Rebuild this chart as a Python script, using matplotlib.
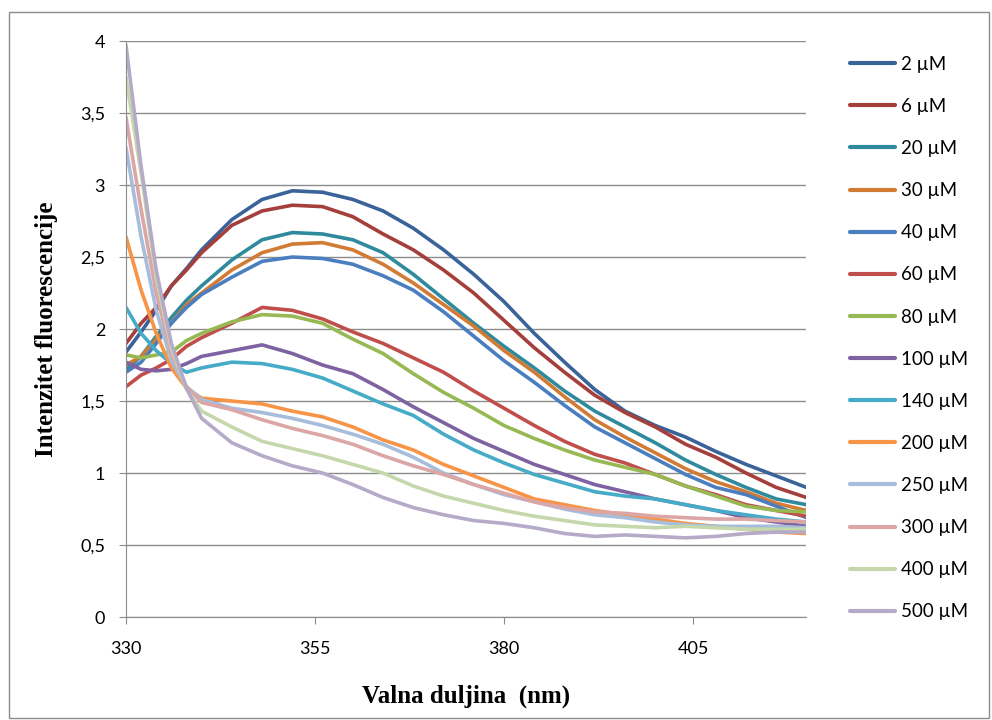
import matplotlib
matplotlib.use('Agg')
import matplotlib.pyplot as plt
from matplotlib.patches import Rectangle

# wavelength grid (nm) and intensities
wavelength = [330, 332, 334, 336, 338, 340, 344, 348, 352, 356, 360, 364, 368,
              372, 376, 380, 384, 388, 392, 396, 400, 404, 408, 412, 416, 420]

c_2 = [1.84, 1.98, 2.13, 2.30, 2.42, 2.55, 2.76, 2.90, 2.96, 2.95, 2.90, 2.82, 2.70,
       2.55, 2.38, 2.19, 1.97, 1.77, 1.58, 1.43, 1.33, 1.25, 1.15, 1.06, 0.98, 0.90]
c_6 = [1.90, 2.04, 2.15, 2.30, 2.41, 2.53, 2.72, 2.82, 2.86, 2.85, 2.78, 2.66, 2.55,
       2.41, 2.25, 2.06, 1.87, 1.70, 1.54, 1.42, 1.32, 1.20, 1.11, 1.00, 0.90, 0.83]
c_20 = [1.72, 1.81, 1.95, 2.08, 2.20, 2.30, 2.48, 2.62, 2.67, 2.66, 2.62, 2.53, 2.38,
        2.21, 2.04, 1.88, 1.73, 1.57, 1.43, 1.32, 1.21, 1.09, 0.99, 0.90, 0.82, 0.78]
c_30 = [1.75, 1.81, 1.93, 2.04, 2.17, 2.25, 2.41, 2.53, 2.59, 2.60, 2.55, 2.45, 2.32,
        2.17, 2.02, 1.85, 1.70, 1.53, 1.37, 1.25, 1.14, 1.03, 0.94, 0.87, 0.79, 0.74]
c_40 = [1.70, 1.77, 1.90, 2.04, 2.15, 2.24, 2.36, 2.47, 2.50, 2.49, 2.45, 2.37, 2.27,
        2.12, 1.95, 1.78, 1.63, 1.47, 1.32, 1.21, 1.10, 0.99, 0.90, 0.85, 0.77, 0.69]
c_60 = [1.60, 1.68, 1.73, 1.79, 1.88, 1.94, 2.04, 2.15, 2.13, 2.07, 1.98, 1.90, 1.80,
        1.70, 1.57, 1.45, 1.33, 1.22, 1.13, 1.07, 0.99, 0.91, 0.85, 0.78, 0.74, 0.70]
c_80 = [1.82, 1.80, 1.82, 1.84, 1.92, 1.97, 2.05, 2.10, 2.09, 2.04, 1.93, 1.83, 1.69,
        1.56, 1.45, 1.33, 1.24, 1.16, 1.09, 1.04, 0.99, 0.91, 0.84, 0.77, 0.74, 0.73]
c_100 = [1.77, 1.72, 1.71, 1.72, 1.76, 1.81, 1.85, 1.89, 1.83, 1.75, 1.69, 1.58, 1.46,
         1.35, 1.24, 1.15, 1.06, 0.99, 0.92, 0.87, 0.82, 0.78, 0.74, 0.69, 0.66, 0.63]
c_140 = [2.15, 1.97, 1.85, 1.76, 1.70, 1.73, 1.77, 1.76, 1.72, 1.66, 1.57, 1.48, 1.40,
         1.27, 1.16, 1.07, 0.99, 0.93, 0.87, 0.84, 0.82, 0.78, 0.74, 0.71, 0.68, 0.66]
c_200 = [2.64, 2.27, 1.97, 1.73, 1.59, 1.52, 1.50, 1.48, 1.43, 1.39, 1.32, 1.23, 1.16,
         1.06, 0.98, 0.90, 0.82, 0.78, 0.74, 0.71, 0.68, 0.65, 0.63, 0.61, 0.59, 0.58]
c_250 = [3.26, 2.64, 2.13, 1.78, 1.60, 1.51, 1.45, 1.42, 1.38, 1.33, 1.27, 1.20, 1.11,
         1.00, 0.92, 0.85, 0.80, 0.75, 0.71, 0.69, 0.66, 0.64, 0.63, 0.63, 0.63, 0.62]
c_300 = [3.47, 2.83, 2.25, 1.83, 1.60, 1.49, 1.44, 1.37, 1.31, 1.26, 1.20, 1.12, 1.05,
         0.99, 0.92, 0.86, 0.80, 0.76, 0.73, 0.72, 0.70, 0.69, 0.68, 0.68, 0.67, 0.66]
c_400 = [3.75, 3.08, 2.36, 1.87, 1.58, 1.43, 1.32, 1.22, 1.17, 1.12, 1.06, 1.00, 0.91,
         0.84, 0.79, 0.74, 0.70, 0.67, 0.64, 0.63, 0.62, 0.63, 0.62, 0.61, 0.61, 0.61]
c_500 = [3.97, 3.13, 2.41, 1.90, 1.59, 1.38, 1.21, 1.12, 1.05, 1.00, 0.92, 0.83, 0.76,
         0.71, 0.67, 0.65, 0.62, 0.58, 0.56, 0.57, 0.56, 0.55, 0.56, 0.58, 0.59, 0.59]

labels = ['2 µM', '6 µM', '20 µM', '30 µM', '40 µM', '60 µM', '80 µM', '100 µM',
          '140 µM', '200 µM', '250 µM', '300 µM', '400 µM', '500 µM']
series = [c_2, c_6, c_20, c_30, c_40, c_60, c_80, c_100, c_140, c_200, c_250, c_300,
          c_400, c_500]
colors = ['#3A6399', '#A43F3C', '#2F8A9E', '#D27B34', '#4A7EBF', '#C04E4B', '#97B954',
          '#7E62A1', '#46ABC7', '#F79446', '#A7BDDC', '#DBA6A5', '#C5D8AC', '#B6AAC9']

xticks = [330, 355, 380, 405]
yticks = [0, 0.5, 1, 1.5, 2, 2.5, 3, 3.5, 4]
ytick_labels = ['0', '0,5', '1', '1,5', '2', '2,5', '3', '3,5', '4']

fig = plt.figure(figsize=(9.92, 7.2), dpi=100)
ax = fig.add_axes([0.127, 0.143, 0.686, 0.800])

for vals, lab, col in zip(series, labels, colors):
    ax.plot(wavelength, vals, color=col, lw=2.6, label=lab, solid_capstyle='round',
            solid_joinstyle='round')

ax.set_xlim(330, 420)
ax.set_ylim(0, 4)
ax.set_xticks(xticks)
ax.set_yticks(yticks)
ax.set_yticklabels(ytick_labels)
ax.grid(axis='y', color='#8c8c8c', lw=1)
ax.set_axisbelow(True)
for s in ['top', 'right']:
    ax.spines[s].set_visible(False)
for s in ['left', 'bottom']:
    ax.spines[s].set_color('#8c8c8c')
ax.tick_params(axis='both', colors='#8c8c8c', length=5, labelcolor='black',
               labelsize=13)
for t in ax.get_xticklabels() + ax.get_yticklabels():
    t.set_family('Lato')
ax.tick_params(axis='y', pad=10)
ax.tick_params(axis='x', pad=12)

ax.set_ylabel('Intenzitet fluorescencije', family='Liberation Serif',
              fontweight='bold', fontsize=18, labelpad=16)
ax.set_xlabel('Valna duljina  (nm)', family='Liberation Serif',
              fontweight='bold', fontsize=18, labelpad=20)

leg = fig.legend(loc='upper left', bbox_to_anchor=(0.840, 0.946), frameon=False,
                 prop={'family': 'Lato', 'size': 13.5}, handlelength=2.4,
                 handletextpad=0.3, labelspacing=1.34)
for ln in leg.get_lines():
    ln.set_linewidth(3)

fig.patches.append(Rectangle((0.009, 0.003), 0.988, 0.98, transform=fig.transFigure,
                             fill=False, edgecolor='#8c8c8c', lw=1))

fig.savefig('out.png', dpi=100)
